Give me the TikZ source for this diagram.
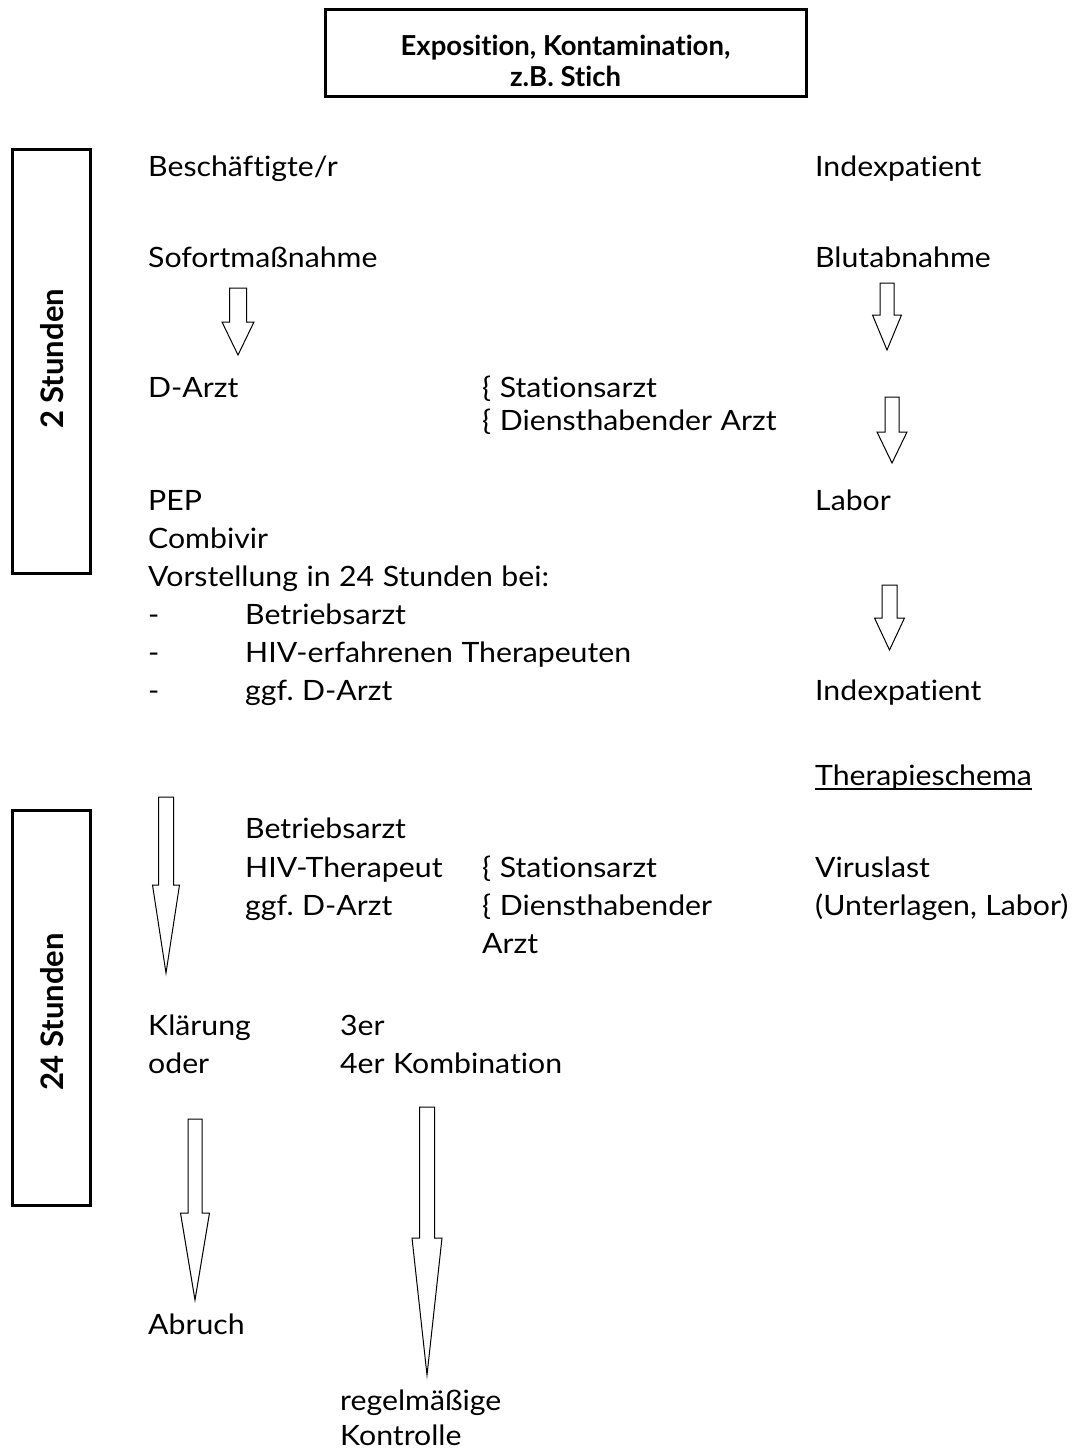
\documentclass[tikz,border=0pt]{standalone}
\usepackage{fontspec}
\setmainfont{Lato}[FakeStretch=1.08, WordSpace=1.1, Ligatures=NoCommon]
\newfontfamily\headfont{Lato}[Ligatures=NoCommon]
\frenchspacing
\begin{document}
\begin{tikzpicture}[x=1pt,y=-1pt,
  txt/.style={anchor=base west, inner sep=0pt, font=\fontsize{28}{32}\selectfont},
  frame/.style={draw, line width=3pt},
  hollow/.style={draw, line width=1pt, fill=white, line join=miter},
  boldtxt/.style={inner sep=0pt, font=\headfont\fontsize{27.5}{30}\bfseries\selectfont},
  sidetxt/.style={inner sep=0pt, rotate=90, font=\headfont\fontsize{31}{34}\bfseries\selectfont}]
% page
\useasboundingbox (0,0) rectangle (1080,1450);

% hollow block arrow: centre x, top y, half shaft width, head base y, half head width, tip y
\newcommand\blockarrow[6]{%
  \draw[hollow] (#1-#3,#2) -- (#1+#3,#2) -- (#1+#3,#4) -- (#1+#5,#4)
    -- (#1,#6) -- (#1-#5,#4) -- (#1-#3,#4) -- cycle;}

% title box
\draw[frame] (325,10) rectangle (806,97);
\node[boldtxt, align=center] (title) at (565.5,61) {Exposition, Kontamination,\\[1pt] z.B. Stich};

% time frames
\draw[frame] (12,150) rectangle (90,573);
\node[sidetxt] (two) at (52,359) {2 Stunden};
\draw[frame] (12,810) rectangle (90,1205);
\node[sidetxt] (twentyfour) at (52,1012) {24 Stunden};

% employee column
\node[txt] (besch) at (148,177) {Beschäftigte/r};
\node[txt] (sofort) at (148,267) {Sofortmaßnahme};
\node[txt] (darzt) at (148,397) {D-Arzt};
\node[txt] (st1) at (482,397) {\{ Stationsarzt};
\node[txt] (dh1) at (482,430) {\{ Diensthabender Arzt};
\node[txt] (pep) at (148,510) {PEP};
\node[txt] (combi) at (148,548) {Combivir};
\node[txt] (vorst) at (148,586) {Vorstellung in 24 Stunden bei:};
\node[txt] (d1) at (148,624) {-};
\node[txt] (v1) at (245,624) {Betriebsarzt};
\node[txt] (d2) at (148,662) {-};
\node[txt] (v2) at (245,662) {HIV-erfahrenen Therapeuten};
\node[txt] (d3) at (148,700) {-};
\node[txt] (v3) at (245,700) {ggf. D-Arzt};

\node[txt] (b1) at (245,838) {Betriebsarzt};
\node[txt] (b2) at (245,877) {HIV-Therapeut};
\node[txt] (b3) at (245,915) {ggf. D-Arzt};
\node[txt] (st2) at (482,877) {\{ Stationsarzt};
\node[txt] (dh2) at (482,915) {\{ Diensthabender};
\node[txt] (dh2b) at (482,953) {Arzt};

\node[txt] (klaer) at (148,1035) {Klärung};
\node[txt] (oder) at (148,1073) {oder};
\node[txt] (drei) at (340,1035) {3er};
\node[txt] (vier) at (340,1073) {4er Kombination};
\node[txt] (abbr) at (148,1334) {Abruch};
\node[txt] (regel) at (340,1410) {regelmäßige};
\node[txt] (kontr) at (340,1445) {Kontrolle};

% index patient column
\node[txt] (idx1) at (815,177) {Indexpatient};
\node[txt] (blut) at (815,267) {Blutabnahme};
\node[txt] (labor) at (815,510) {Labor};
\node[txt] (idx2) at (815,700) {Indexpatient};
\node[txt] (thera) at (815,785) {Therapieschema};
\draw[line width=1.3pt] ([yshift=-4pt]thera.base west) -- ([yshift=-4pt]thera.base east);
\node[txt] (viru) at (815,877) {Viruslast};
\node[txt] (unter) at (815,915) {(Unterlagen, Labor)};

% block arrows
\blockarrow{238}{288}{8.5}{322}{16}{355}
\blockarrow{887}{283}{7}{315}{14.5}{350}
\blockarrow{892}{397}{7}{432}{15}{463}
\blockarrow{889.5}{585}{7.5}{618}{15}{650}
\blockarrow{166}{797}{7.5}{885}{13.5}{973}
\blockarrow{195}{1119}{7}{1213}{14.5}{1300}
\blockarrow{427}{1107}{7.5}{1238}{15}{1375}
\end{tikzpicture}
\end{document}
